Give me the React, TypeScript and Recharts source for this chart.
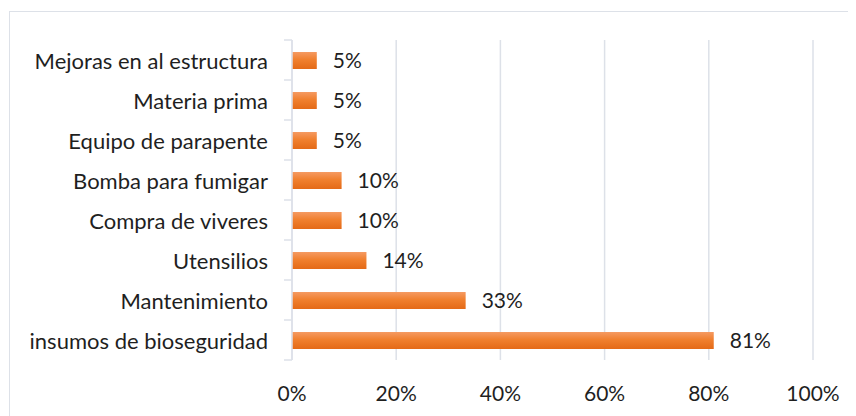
import { Bar, BarChart, CartesianGrid, LabelList, XAxis, YAxis } from "recharts";

const categories = [
  "Mejoras en al estructura",
  "Materia prima",
  "Equipo de parapente",
  "Bomba para fumigar",
  "Compra de viveres",
  "Utensilios",
  "Mantenimiento",
  "insumos de bioseguridad",
];
const shares = [4.76, 4.76, 4.76, 9.52, 9.52, 14.29, 33.33, 80.95];
const xTicks = [0, 20, 40, 60, 80, 100];

const data = categories.map((name, i) => ({ name, value: shares[i] }));

const FONT = "Lato, 'Open Sans', sans-serif";
const TEXT = "#1f1f1f";
const GRID = "#dde1e8";
const BAND = 40;

function CategoryTick(props: any) {
  const { x, y, payload, index } = props;
  return (
    <g>
      {index === 0 && <line x1={x} x2={x + 8} y1={y - BAND / 2} y2={y - BAND / 2} stroke={GRID} strokeWidth={1.5} />}
      <line x1={x} x2={x + 8} y1={y + BAND / 2} y2={y + BAND / 2} stroke={GRID} strokeWidth={1.5} />
      <text x={x - 16} y={y} textAnchor="end" dominantBaseline="central" fill={TEXT} fontSize={22} fontFamily={FONT}>
        {payload.value}
      </text>
    </g>
  );
}

function PctTick(props: any) {
  const { x, y, payload } = props;
  return (
    <text x={x} y={y + 24} textAnchor="middle" dominantBaseline="central" fill={TEXT} fontSize={21} fontFamily={FONT}>
      {payload.value}%
    </text>
  );
}

export default function App() {
  return (
    <div
      style={{
        marginLeft: 1,
        marginTop: 3,
        width: 860,
        height: 420,
        border: `1.5px solid ${GRID}`,
        background: "#fff",
      }}
    >
      <style>{`html,body{overflow:hidden}`}</style>
      <BarChart
        width={846}
        height={404}
        data={data}
        layout="vertical"
        barSize={17}
        margin={{ top: 28, right: 43, bottom: 26, left: 0 }}
      >
        <defs>
          <linearGradient id="barFill" x1="0" y1="0" x2="0" y2="1">
            <stop offset="0%" stopColor="#f59a62" />
            <stop offset="45%" stopColor="#f0802f" />
            <stop offset="100%" stopColor="#e46a17" />
          </linearGradient>
        </defs>
        <CartesianGrid horizontal={false} stroke={GRID} strokeWidth={1.5} />
        <XAxis
          type="number"
          domain={[0, 100]}
          ticks={xTicks}
          axisLine={false}
          tickLine={false}
          height={30}
          tick={<PctTick />}
        />
        <YAxis
          type="category"
          dataKey="name"
          width={282}
          axisLine={{ stroke: GRID, strokeWidth: 1.5 }}
          tickLine={false}
          tick={<CategoryTick />}
        />
        <Bar dataKey="value" fill="url(#barFill)" isAnimationActive={false}>
          <LabelList
            dataKey="value"
            position="right"
            offset={16}
            formatter={(v: any) => `${Math.round(Number(v))}%`}
            fill={TEXT}
            fontSize={21}
            fontFamily={FONT}
          />
        </Bar>
      </BarChart>
    </div>
  );
}
